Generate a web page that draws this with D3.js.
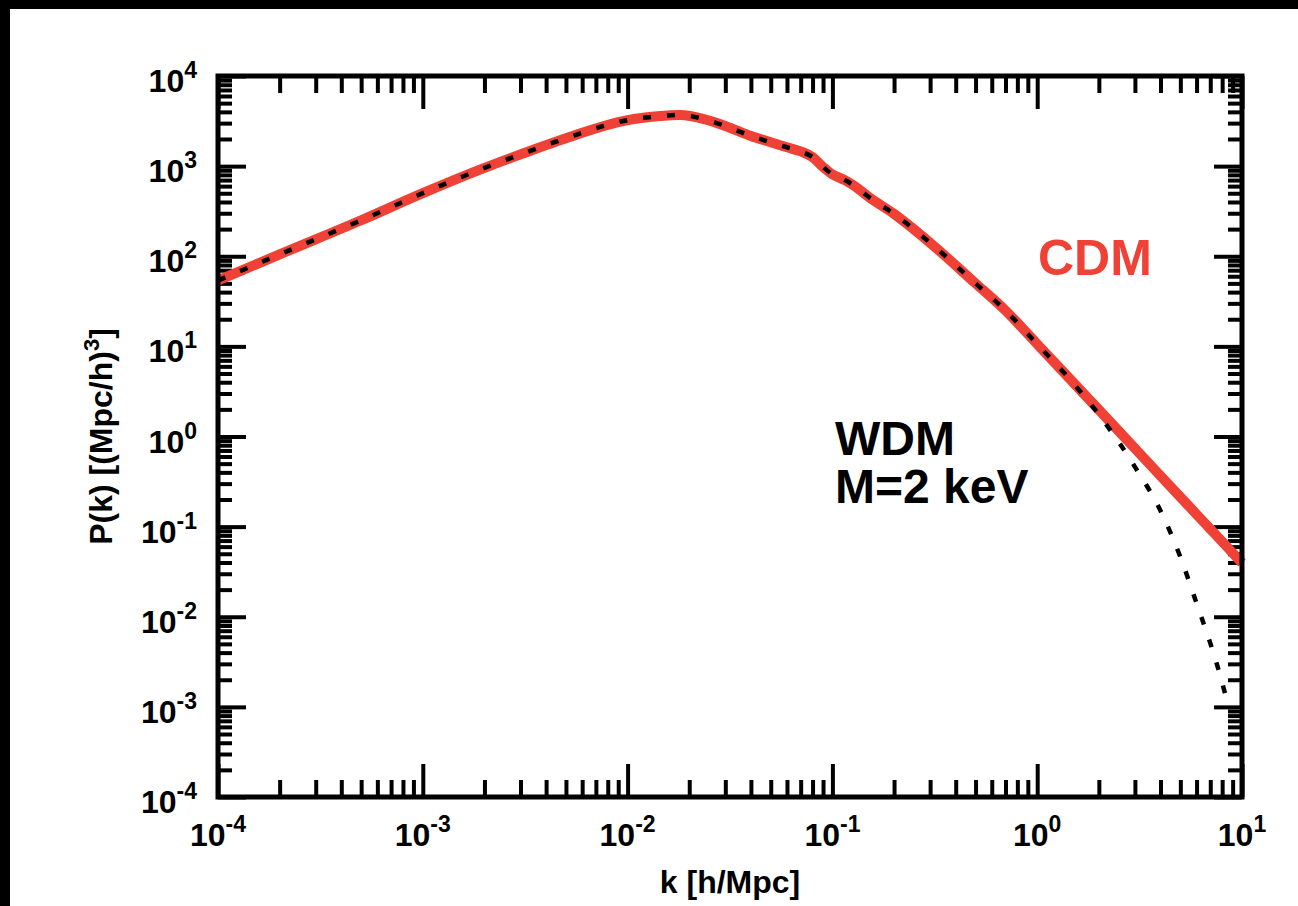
<!DOCTYPE html>
<html>
<head>
<meta charset="utf-8">
<script src="https://cdn.jsdelivr.net/npm/d3@7"></script>
<style>
  body { margin: 0; background: #000; }
  svg { display: block; font-family: "Liberation Sans", Arial, sans-serif; }
</style>
</head>
<body>
<div id="viz"></div>
<script>
// wavenumbers k [h/Mpc]
const kValues = [1e-4, 2e-4, 5e-4, 1e-3, 2e-3, 3e-3, 5e-3, 1e-2, 1.4e-2, 1.8e-2,
  2.4e-2, 3e-2, 4e-2, 5e-2, 6e-2, 7e-2, 8e-2, 9e-2, 0.1, 0.115, 0.13, 0.15,
  0.2, 0.3, 0.5, 0.7, 1.0, 1.5, 2, 3, 4, 5, 6, 7, 8, 8.5, 10];
// CDM power spectrum
const cdmP = [53.7, 105, 251, 501, 955, 1350, 2040, 3240, 3570, 3690,
  3290, 2790, 2160, 1840, 1620, 1455, 1260, 980, 810, 700, 590, 457,
  295, 141, 50, 25, 10.6, 3.97, 1.98, 0.738, 0.366, 0.213, 0.137, 0.0942, 0.0681, 0.0588, 0.0395];
// WDM (M = 2 keV) power spectrum, stops at k = 8.5
const wdmP = [53.7, 105, 251, 501, 955, 1350, 2040, 3240, 3570, 3690,
  3290, 2790, 2160, 1840, 1620, 1455, 1260, 980, 810, 700, 590, 457,
  295, 141, 50, 25, 10.6, 3.9, 1.75, 0.46, 0.15, 0.046, 0.0141, 0.0051, 0.00186, 0.0011, null];

const xTickExps = [-4, -3, -2, -1, 0, 1];
const yTickExps = [-4, -3, -2, -1, 0, 1, 2, 3, 4];

const width = 1298;
const height = 906;
const pl = 218, pr = 1242, pt = 76, pb = 797;

const svg = d3.select('#viz')
  .append('svg')
  .attr('width', width)
  .attr('height', height);

svg.append('rect')
  .attr('width', width).attr('height', height)
  .attr('fill', '#000');
svg.append('rect')
  .attr('x', 10).attr('y', 9)
  .attr('width', width - 10).attr('height', height - 9)
  .attr('fill', '#fff');

const x = d3.scaleLog().domain([1e-4, 10]).range([pl, pr]);
const y = d3.scaleLog().domain([1e-4, 1e4]).range([pb, pt]);

const isPow10 = v => Math.abs(Math.log10(v) - Math.round(Math.log10(v))) < 1e-9;
const xMajor = xTickExps.map(e => Math.pow(10, e));
const yMajor = yTickExps.map(e => Math.pow(10, e));
const xMinor = x.ticks().filter(v => !isPow10(v));
const yMinor = y.ticks().filter(v => !isPow10(v));

// ticks, all pointing inward
function ticks(axis, tf, values, size) {
  svg.append('g')
    .attr('transform', tf)
    .call(axis.tickValues(values).tickSize(size).tickFormat(''))
    .call(g => g.select('.domain').remove())
    .selectAll('line')
    .attr('stroke', '#000')
    .attr('stroke-width', 4);
}
ticks(d3.axisTop(x), `translate(0,${pb})`, xMinor, 17);
ticks(d3.axisTop(x), `translate(0,${pb})`, xMajor, 33);
ticks(d3.axisBottom(x), `translate(0,${pt})`, xMinor, 17);
ticks(d3.axisBottom(x), `translate(0,${pt})`, xMajor, 33);
ticks(d3.axisRight(y), `translate(${pl},0)`, yMinor, 14);
ticks(d3.axisRight(y), `translate(${pl},0)`, yMajor, 28);
ticks(d3.axisLeft(y), `translate(${pr},0)`, yMinor, 14);
ticks(d3.axisLeft(y), `translate(${pr},0)`, yMajor, 28);

// curves
const line = d3.line()
  .defined(d => d[1] != null)
  .x(d => x(d[0]))
  .y(d => y(d[1]))
  .curve(d3.curveMonotoneX);

svg.append('path')
  .datum(kValues.map((k, i) => [k, cdmP[i]]))
  .attr('d', line)
  .attr('fill', 'none')
  .attr('stroke', '#ef4135')
  .attr('stroke-width', 10);

svg.append('path')
  .datum(kValues.map((k, i) => [k, wdmP[i]]))
  .attr('d', line)
  .attr('fill', 'none')
  .attr('stroke', '#000')
  .attr('stroke-width', 4.5)
  .attr('stroke-dasharray', '8,16');

// frame
svg.append('rect')
  .attr('x', pl).attr('y', pt)
  .attr('width', pr - pl).attr('height', pb - pt)
  .attr('fill', 'none')
  .attr('stroke', '#000')
  .attr('stroke-width', 5);

// tick labels
function powLabel(sel, e) {
  sel.append('tspan').text('10');
  sel.append('tspan').attr('dy', -14).attr('font-size', 23).text(e);
}
xTickExps.forEach(e => {
  svg.append('text')
    .attr('x', x(Math.pow(10, e)))
    .attr('y', 846)
    .attr('text-anchor', 'middle')
    .attr('font-size', 32)
    .attr('font-weight', 'bold')
    .call(powLabel, e);
});
yTickExps.forEach(e => {
  svg.append('text')
    .attr('x', 197)
    .attr('y', y(Math.pow(10, e)) + 16)
    .attr('text-anchor', 'end')
    .attr('font-size', 32)
    .attr('font-weight', 'bold')
    .call(powLabel, e);
});

// axis titles
svg.append('text')
  .attr('x', (pl + pr) / 2)
  .attr('y', 893)
  .attr('text-anchor', 'middle')
  .attr('font-size', 32)
  .attr('font-weight', 'bold')
  .text('k [h/Mpc]');

const yt = svg.append('text')
  .attr('transform', `translate(112,${(pt + pb) / 2}) rotate(-90)`)
  .attr('text-anchor', 'middle')
  .attr('font-size', 32)
  .attr('font-weight', 'bold');
yt.append('tspan').text('P(k) [(Mpc/h)');
yt.append('tspan').attr('dy', -13).attr('font-size', 22).text('3');
yt.append('tspan').attr('dy', 13).text(']');

// annotations
svg.append('text')
  .attr('x', 1038).attr('y', 275)
  .attr('font-size', 50)
  .attr('font-weight', 'bold')
  .attr('fill', '#ef4135')
  .text('CDM');

svg.append('text')
  .attr('x', 835).attr('y', 455)
  .attr('font-size', 48)
  .attr('font-weight', 'bold')
  .text('WDM');
svg.append('text')
  .attr('x', 835).attr('y', 503)
  .attr('font-size', 48)
  .attr('font-weight', 'bold')
  .text('M=2 keV');
</script>
</body>
</html>
